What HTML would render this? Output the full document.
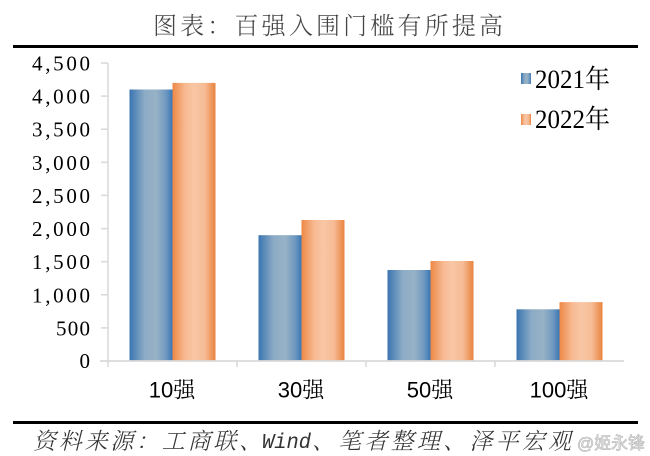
<!DOCTYPE html>
<html>
<head>
<meta charset="utf-8">
<style>
  html, body { margin: 0; padding: 0; background: #fff; }
  body { width: 650px; height: 456px; overflow: hidden; }
  svg { display: block; }
</style>
</head>
<body>
<svg width="650" height="456" viewBox="0 0 650 456" xmlns="http://www.w3.org/2000/svg">
  <defs>
    <linearGradient id="gb" x1="0" y1="0" x2="1" y2="0">
      <stop offset="0" stop-color="#3a75b1"/>
      <stop offset="0.35" stop-color="#8cabc5"/>
      <stop offset="0.62" stop-color="#97b2c6"/>
      <stop offset="0.85" stop-color="#6f98c0"/>
      <stop offset="1" stop-color="#3a77b4"/>
    </linearGradient>
    <linearGradient id="go" x1="0" y1="0" x2="1" y2="0">
      <stop offset="0" stop-color="#ee8846"/>
      <stop offset="0.3" stop-color="#f7ba93"/>
      <stop offset="0.5" stop-color="#f8c6a4"/>
      <stop offset="0.75" stop-color="#f6bc96"/>
      <stop offset="1" stop-color="#e9833e"/>
    </linearGradient>
  </defs>

  <!-- Title -->
  <text x="153" y="34" font-family="'Noto Serif CJK SC', 'Liberation Serif', serif" font-size="24" font-weight="300" fill="#444" textLength="350" lengthAdjust="spacing">图表：百强入围门槛有所提高</text>

  <!-- Top rule -->
  <rect x="13" y="45" width="625" height="3" fill="#000"/>

  <!-- Y axis -->
  <line x1="108" y1="63" x2="108" y2="361" stroke="#d9d9d9" stroke-width="1.5"/>
  <g stroke="#d9d9d9" stroke-width="1.5">
    <line x1="101" y1="63" x2="108" y2="63"/>
    <line x1="101" y1="96.1" x2="108" y2="96.1"/>
    <line x1="101" y1="129.2" x2="108" y2="129.2"/>
    <line x1="101" y1="162.3" x2="108" y2="162.3"/>
    <line x1="101" y1="195.4" x2="108" y2="195.4"/>
    <line x1="101" y1="228.6" x2="108" y2="228.6"/>
    <line x1="101" y1="261.7" x2="108" y2="261.7"/>
    <line x1="101" y1="294.8" x2="108" y2="294.8"/>
    <line x1="101" y1="327.9" x2="108" y2="327.9"/>
  </g>

  <!-- Y labels -->
  <g font-family="'Liberation Serif', serif" font-size="21" fill="#000" text-anchor="end">
    <text x="90" y="70.5" textLength="58" lengthAdjust="spacing">4,500</text>
    <text x="90" y="103.6" textLength="58" lengthAdjust="spacing">4,000</text>
    <text x="90" y="136.7" textLength="58" lengthAdjust="spacing">3,500</text>
    <text x="90" y="169.8" textLength="58" lengthAdjust="spacing">3,000</text>
    <text x="90" y="202.9" textLength="58" lengthAdjust="spacing">2,500</text>
    <text x="90" y="236.1" textLength="58" lengthAdjust="spacing">2,000</text>
    <text x="90" y="269.2" textLength="58" lengthAdjust="spacing">1,500</text>
    <text x="90" y="302.3" textLength="58" lengthAdjust="spacing">1,000</text>
    <text x="90" y="335.4" textLength="34" lengthAdjust="spacing">500</text>
    <text x="90" y="368">0</text>
  </g>

  <!-- Bars -->
  <rect x="129.5" y="89.5" width="43" height="271.5" fill="url(#gb)"/>
  <rect x="172.5" y="82.9" width="43" height="278.1" fill="url(#go)"/>

  <rect x="258.5" y="235.2" width="43" height="125.8" fill="url(#gb)"/>
  <rect x="301.5" y="220" width="43" height="141" fill="url(#go)"/>

  <rect x="387.5" y="270" width="43" height="91" fill="url(#gb)"/>
  <rect x="430.5" y="261" width="43" height="100" fill="url(#go)"/>

  <rect x="516.5" y="309.3" width="43" height="51.7" fill="url(#gb)"/>
  <rect x="559.5" y="302.1" width="43" height="58.9" fill="url(#go)"/>

  <!-- X axis -->
  <line x1="100" y1="361" x2="624" y2="361" stroke="#d9d9d9" stroke-width="1.8"/>
  <g stroke="#d9d9d9" stroke-width="1.5">
    <line x1="108" y1="361" x2="108" y2="367"/>
    <line x1="237" y1="361" x2="237" y2="367"/>
    <line x1="366" y1="361" x2="366" y2="367"/>
    <line x1="495" y1="361" x2="495" y2="367"/>
  </g>

  <!-- X labels -->
  <g font-family="'Liberation Sans', 'Noto Serif CJK SC', sans-serif" font-size="22" fill="#000" text-anchor="middle">
    <text x="172" y="397.5">10强</text>
    <text x="301" y="397.5">30强</text>
    <text x="430" y="397.5">50强</text>
    <text x="559" y="397.5">100强</text>
  </g>

  <!-- Legend -->
  <rect x="521" y="73" width="10" height="11" fill="url(#gb)"/>
  <text x="535" y="88" font-family="'Liberation Serif', 'Noto Serif CJK SC', serif" font-size="26" fill="#000" textLength="75" lengthAdjust="spacingAndGlyphs">2021年</text>
  <rect x="521" y="114" width="10" height="11" fill="url(#go)"/>
  <text x="535" y="128" font-family="'Liberation Serif', 'Noto Serif CJK SC', serif" font-size="26" fill="#000" textLength="75" lengthAdjust="spacingAndGlyphs">2022年</text>

  <!-- Bottom rule -->
  <rect x="13" y="421" width="625" height="3" fill="#000"/>

  <!-- Footer -->
  <g font-size="23" fill="#333" font-style="italic">
    <text x="33" y="449" font-family="'Noto Serif CJK SC', 'Liberation Serif', serif" font-weight="300" textLength="229" lengthAdjust="spacing">资料来源：工商联、</text>
    <text x="262" y="448" font-family="'Liberation Mono', monospace" font-size="21" textLength="49" lengthAdjust="spacingAndGlyphs">Wind</text>
    <text x="312" y="449" font-family="'Noto Serif CJK SC', 'Liberation Serif', serif" font-weight="300" textLength="259" lengthAdjust="spacing">、笔者整理、泽平宏观</text>
  </g>

  <!-- Watermark -->
  <text x="577" y="449" font-family="'Liberation Sans', 'Noto Sans CJK SC', sans-serif" font-size="17" fill="#e6e6e6" stroke="#b5b5b5" stroke-width="0.6" textLength="68" lengthAdjust="spacingAndGlyphs">@姬永锋</text>
</svg>
</body>
</html>
